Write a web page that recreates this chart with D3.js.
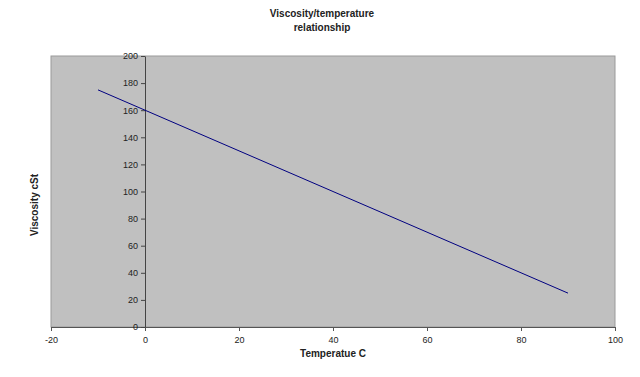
<!DOCTYPE html>
<html>
<head>
<meta charset="utf-8">
<script src="https://cdn.jsdelivr.net/npm/d3@7"></script>
<style>
    body { margin: 0; background: #fff; }
    svg { display: block; font-family: "Liberation Sans", Arial, sans-serif; }
    .tick text { fill: #222; font-size: 9px; }
</style>
</head>
<body>
<svg id="chart" width="640" height="377"></svg>
<script>
    // data
    const temperatures = [-10, 0, 10, 20, 30, 40, 50, 60, 70, 80, 90];
    const viscosity = [175, 160, 145, 130, 115, 100, 85, 70, 55, 40, 25];
    const xTicks = [-20, 0, 20, 40, 60, 80, 100];
    const yTicks = [0, 20, 40, 60, 80, 100, 120, 140, 160, 180, 200];

    const svg = d3.select("#chart");
    const plot = { left: 51, right: 615, top: 56, bottom: 327 };

    const x = d3.scaleLinear().domain([-20, 100]).range([plot.left, plot.right]);
    const y = d3.scaleLinear().domain([0, 200]).range([plot.bottom, plot.top]);

    svg.append("rect")
        .attr("x", plot.left)
        .attr("y", plot.top)
        .attr("width", plot.right - plot.left)
        .attr("height", plot.bottom - plot.top)
        .attr("fill", "#c0c0c0")
        .attr("stroke", "#9a9a9a")
        .attr("stroke-width", 1);

    // x axis along the bottom, plain hyphen for negatives like the original
    let xAxis = svg.append("g")
        .attr("transform", `translate(0,${plot.bottom})`)
        .call(d3.axisBottom(x).tickValues(xTicks).tickFormat(d => String(d))
            .tickSize(4).tickSizeOuter(0).tickPadding(6));
    xAxis.select(".domain").attr("stroke", "#555");
    xAxis.selectAll(".tick line").attr("stroke", "#555");

    // y axis sits at x = 0
    let yAxis = svg.append("g")
        .attr("transform", `translate(${x(0)},0)`)
        .call(d3.axisLeft(y).tickValues(yTicks).tickFormat(d => String(d))
            .tickSize(4).tickSizeOuter(0).tickPadding(3));
    yAxis.select(".domain").attr("stroke", "#444");
    yAxis.selectAll(".tick line").attr("stroke", "#444");

    const line = d3.line()
        .x((d, i) => x(temperatures[i]))
        .y(d => y(d));

    svg.append("path")
        .datum(viscosity)
        .attr("d", line)
        .attr("fill", "none")
        .attr("stroke", "#000080")
        .attr("stroke-width", 1);

    const title = svg.append("text")
        .attr("text-anchor", "middle")
        .attr("font-size", "10px")
        .attr("font-weight", "bold")
        .attr("fill", "#222");
    title.append("tspan").attr("x", 322).attr("y", 17).text("Viscosity/temperature");
    title.append("tspan").attr("x", 322).attr("y", 31).text("relationship");

    svg.append("text")
        .attr("x", 333)
        .attr("y", 357)
        .attr("text-anchor", "middle")
        .attr("font-size", "10px")
        .attr("font-weight", "bold")
        .attr("fill", "#222")
        .text("Temperatue C");

    svg.append("text")
        .attr("transform", "translate(38,205) rotate(-90)")
        .attr("text-anchor", "middle")
        .attr("font-size", "10px")
        .attr("font-weight", "bold")
        .attr("fill", "#222")
        .text("Viscosity cSt");
</script>
</body>
</html>
